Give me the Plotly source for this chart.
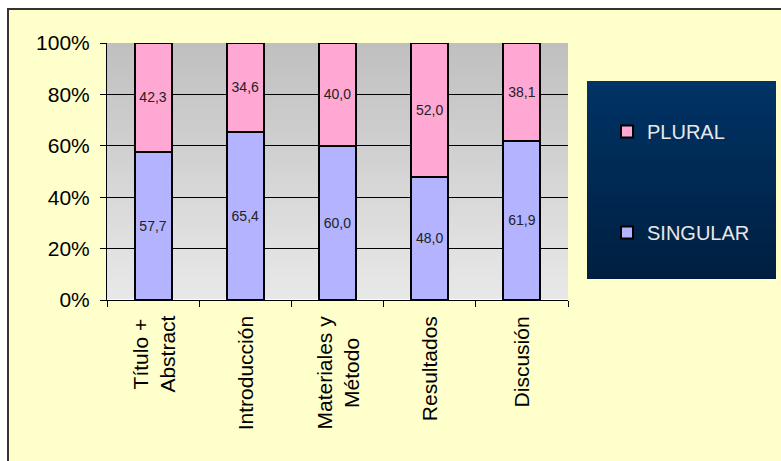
import plotly.graph_objects as go

categories = ["Título +<br>Abstract", "Introducción", "Materiales y<br>Método", "Resultados", "Discusión"]
singular = [57.7, 65.4, 60.0, 48.0, 61.9]
plural = [42.3, 34.6, 40.0, 52.0, 38.1]
y_ticks = [0, 20, 40, 60, 80, 100]
y_tick_labels = ["0%", "20%", "40%", "60%", "80%", "100%"]

W, H = 781, 461
L, R, T, B = 107, 568, 43, 300


def xp(px):
    return (px - L) / (R - L)


def yp(py):
    return (B - py) / (B - T)


def lerp(c1, c2, t):
    return "rgb(%d,%d,%d)" % tuple(round(a + (b - a) * t) for a, b in zip(c1, c2))


FONT = "Liberation Sans, Arial, sans-serif"

fig = go.Figure()
fig.add_trace(go.Bar(
    x=categories, y=singular, name="SINGULAR",
    marker=dict(color="#B3B3FF", line=dict(color="black", width=2)),
    texttemplate="%{y:.1f}", textposition="inside", insidetextanchor="middle",
    textfont=dict(size=14, color="#222222", family=FONT), constraintext="none",
    legendgroup="s", legendrank=2,
))
fig.add_trace(go.Bar(
    x=categories, y=plural, name="PLURAL",
    marker=dict(color="#FFA8D3", line=dict(color="black", width=2)),
    texttemplate="%{y:.1f}", textposition="inside", insidetextanchor="middle",
    textfont=dict(size=14, color="#222222", family=FONT), constraintext="none",
    legendgroup="p", legendrank=1,
))

shapes = []
# chart area background with border (top/left visible)
shapes.append(dict(type="rect", xref="paper", yref="paper", layer="below",
                   x0=xp(8), x1=xp(800), y0=yp(9), y1=yp(480),
                   fillcolor="#FFFFCC", line=dict(color="#333333", width=2)))
# legend box gradient (each band runs to the bottom so no seams)
n = 40
lx0, lx1, ly0, ly1 = 587, 776, 81, 279
for i in range(n):
    a = ly0 + (ly1 - ly0) * i / n
    shapes.append(dict(type="rect", xref="paper", yref="paper", layer="below",
                       x0=xp(lx0), x1=xp(lx1), y0=yp(a), y1=yp(ly1),
                       fillcolor=lerp((0, 51, 102), (0, 31, 64), i / (n - 1)),
                       line=dict(width=0)))
# plot area gradient
for i in range(n):
    shapes.append(dict(type="rect", xref="x domain", yref="y domain", layer="below",
                       x0=0, x1=1, y0=1 - i / n, y1=0,
                       fillcolor=lerp((192, 192, 192), (232, 232, 232), i / (n - 1)),
                       line=dict(width=0)))

annotations = []
for c in categories:
    annotations.append(dict(x=c, xref="x", y=0, yref="paper", yanchor="top", xanchor="center",
                            yshift=-14, text=c, textangle=-90, showarrow=False,
                            font=dict(size=21, color="black", family=FONT)))

fig.update_layout(
    width=W, height=H, autosize=False,
    margin=dict(l=L, r=W - R, t=T, b=H - B, pad=0),
    paper_bgcolor="white", plot_bgcolor="rgba(0,0,0,0)",
    barmode="stack", bargap=0.6,
    separators=",.",
    font=dict(family=FONT, color="black"),
    shapes=shapes, annotations=annotations,
    showlegend=True,
    legend=dict(x=xp(607), y=yp(112), xanchor="left", yanchor="top",
                bgcolor="rgba(0,0,0,0)", borderwidth=0,
                font=dict(size=20, color="#E8E8E8", family=FONT),
                traceorder="grouped", tracegroupgap=72),
    xaxis=dict(showticklabels=False, ticks="outside", tickson="boundaries", ticklen=6,
               tickcolor="black", showline=True, linecolor="black", linewidth=1,
               showgrid=False, fixedrange=True),
    yaxis=dict(range=[0, 100], tickmode="array", tickvals=y_ticks, ticktext=y_tick_labels,
               ticks="outside", ticklen=6, ticklabelstandoff=6,
               tickcolor="black", showline=True, linecolor="black", linewidth=1,
               showgrid=True, gridcolor="black", gridwidth=1,
               tickfont=dict(size=21, color="black", family=FONT), fixedrange=True),
)

fig.write_html("out.html")
